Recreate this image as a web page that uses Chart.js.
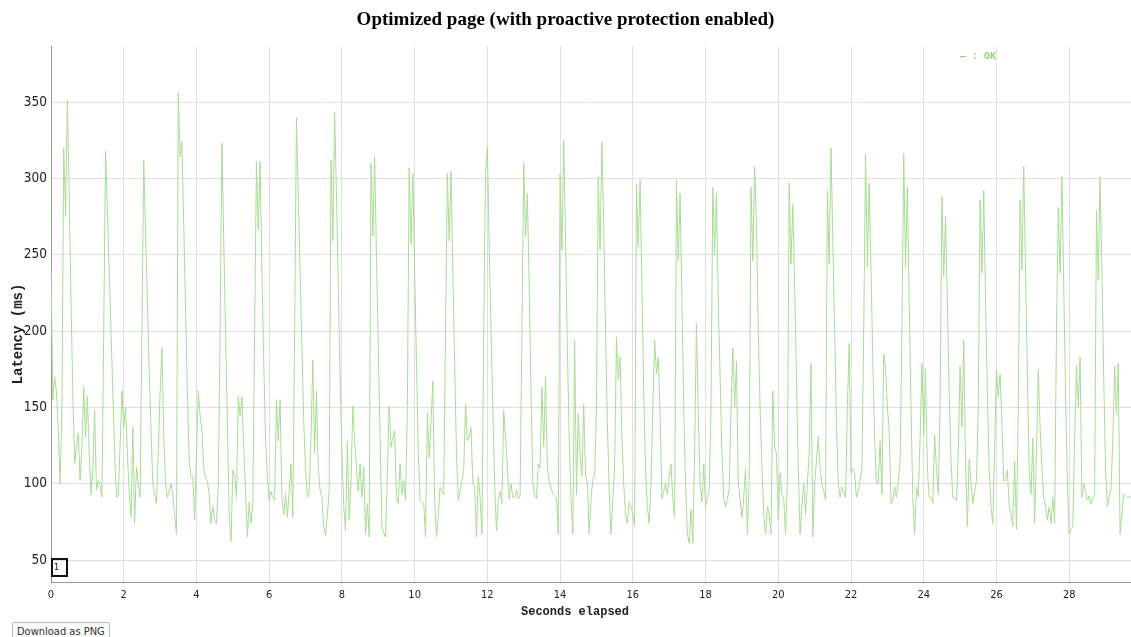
<!DOCTYPE html>
<html>
<head>
<meta charset="utf-8">
<script src="https://cdn.jsdelivr.net/npm/chart.js@4.4.1/dist/chart.umd.min.js"></script>
<style>
  html, body { margin: 0; padding: 0; background: #fff; overflow: hidden; }
  #wrap { position: relative; width: 1131px; height: 637px; }
  #chart { position: absolute; left: 0; top: 0; }
  #box1 { position: absolute; left: 51px; top: 558px; width: 12px; height: 15px; border: 2px solid #111;
          font: 9px "Liberation Sans Narrow", "DejaVu Sans Condensed", Arial, sans-serif; color: #111; line-height: 15px; padding-left: 1px; }
  #dl { position: absolute; left: 12px; top: 622px; height: 17px; padding: 0 4px; border: 1px solid #bbb; border-radius: 2px;
        background: #fafafa; font: 11px "Liberation Sans Narrow", "DejaVu Sans Condensed", Arial, sans-serif; color: #333; line-height: 17px; }
</style>
</head>
<body>
<div id="wrap">
  <canvas id="chart" width="1131" height="637"></canvas>
  <div id="box1">1</div>
  <div id="dl">Download as PNG</div>
</div>
<script>
// ---- data (latency in ms, sampled every 0.05 s) ----
const chartTitle = "Optimized page (with proactive protection enabled)";
const xAxisTitle = "Seconds elapsed";
const yAxisTitle = "Latency (ms)";
const seriesName = "OK";
const sampleStep = 0.05;
const xTickValues = [0, 2, 4, 6, 8, 10, 12, 14, 16, 18, 20, 22, 24, 26, 28];
const yTickValues = [50, 100, 150, 200, 250, 300, 350];

const latency0to5 = [
  240,155,170,160,135,100,150,320,275,351,290,220,160,113,125,133,102,125,163,130,
  157,120,93,110,148,96,102,100,91,200,318,280,240,200,160,120,91,92,125,161,
  137,150,120,95,78,137,74,111,100,91,200,312,265,220,175,135,100,93,87,120,
  159,189,133,100,91,95,100,93,80,67,356,314,324,270,215,160,115,104,105,76,
  120,161,145,135,110,104,102,93,74,85,76,74,100,200,323,260,200,140,80,62
];
const latency5to10 = [
  109,105,91,157,144,157,124,95,65,88,74,87,200,311,266,311,240,180,130,104,
  89,95,91,89,155,128,155,91,80,93,78,95,113,78,200,340,290,240,190,140,
  110,91,95,130,181,120,161,110,96,91,72,66,80,95,312,259,343,290,230,170,
  120,85,69,128,76,102,151,128,110,95,113,91,111,67,87,65,310,262,314,250,
  190,130,72,68,65,107,151,124,130,135,91,87,113,93,102,89,150,307,257,303
];
const latency10to15 = [
  240,180,120,89,88,87,65,146,117,140,167,89,65,80,98,95,93,200,303,259,
  305,240,180,120,89,95,102,109,152,128,130,137,100,98,65,105,91,67,200,303,
  321,257,200,150,100,69,90,95,87,148,130,110,90,100,91,91,96,90,92,200,
  310,262,290,230,160,100,93,90,113,110,163,124,170,110,102,98,93,92,91,67,
  303,253,325,260,190,130,90,67,194,93,146,120,105,152,105,100,67,90,103,105
];
const latency15to20 = [
  150,301,253,324,270,200,140,95,67,90,110,196,168,183,130,100,80,74,88,85,
  80,72,296,255,299,230,160,110,85,74,100,150,194,172,183,146,90,95,100,93,
  105,113,90,78,299,246,290,220,150,100,67,61,83,61,120,205,146,100,88,113,
  85,91,95,150,294,250,290,220,170,120,90,85,90,96,150,189,150,180,100,90,
  78,91,110,67,100,294,246,308,270,200,150,110,80,67,85,80,67,161,124,120
];
const latency20to25 = [
  76,107,93,90,67,102,297,244,283,230,170,110,67,85,100,80,100,120,179,65,
  100,115,131,110,100,95,89,292,244,320,260,200,140,100,91,98,95,91,150,192,
  107,110,107,91,95,102,110,200,316,242,297,240,180,130,100,100,128,93,185,176,
  150,135,87,90,98,91,102,113,200,316,242,294,220,150,90,67,98,91,130,179,
  132,175,110,91,91,87,132,110,93,150,288,236,275,220,160,115,91,91,89,120
];
const latency25to30 = [
  177,137,194,116,72,116,100,87,95,102,150,286,238,292,220,160,110,85,74,124,
  175,157,172,140,102,102,109,85,80,72,115,70,150,286,240,308,240,170,110,93,
  130,74,120,175,137,110,91,85,76,85,74,91,74,200,281,238,301,230,160,100,
  67,70,72,130,177,150,183,91,100,95,89,92,87,90,93,279,233,301,240,170,
  110,85,91,96,130,177,146,179,67,80,93,92,91,91,92
];
const segmentStarts = [0, 5, 10, 15, 20, 25];
const segmentValues = [latency0to5, latency5to10, latency10to15, latency15to20, latency20to25, latency25to30];

// ---- build points ----
const points = [];
segmentValues.forEach((vals, s) => {
  vals.forEach((v, i) => {
    points.push({ x: Math.round((segmentStarts[s] + i * sampleStep) * 1000) / 1000, y: v });
  });
});

const lineColor = 'rgb(168, 220, 148)';
const gridColor = 'rgb(224, 224, 224)';
const axisColor = 'rgb(150, 150, 150)';
const narrowFont = '"Liberation Sans Narrow", "DejaVu Sans Condensed", Arial, sans-serif';
const monoFont = '"Liberation Mono", "DejaVu Sans Mono", "Courier New", monospace';

const extraText = {
  id: 'extraText',
  afterDraw(chart) {
    const ctx = chart.ctx;
    ctx.save();
    // x axis title
    ctx.fillStyle = '#222';
    ctx.font = 'bold 12px ' + monoFont;
    ctx.textAlign = 'center';
    ctx.textBaseline = 'middle';
    ctx.fillText(xAxisTitle, 575, 612);
    // y axis title
    ctx.save();
    ctx.translate(18, 334);
    ctx.rotate(-Math.PI / 2);
    ctx.font = 'bold 14px ' + monoFont;
    ctx.fillText(yAxisTitle, 0, 0);
    ctx.restore();
    // legend
    ctx.fillStyle = 'rgb(150, 208, 125)';
    ctx.font = 'bold 10px ' + monoFont;
    ctx.textAlign = 'left';
    ctx.fillText('\u2014 : ' + seriesName, 960, 56);
    ctx.restore();
  }
};

new Chart(document.getElementById('chart').getContext('2d'), {
  type: 'line',
  data: {
    datasets: [{
      label: seriesName,
      data: points,
      borderColor: lineColor,
      borderWidth: 1,
      pointRadius: 0,
      tension: 0,
      fill: false
    }]
  },
  options: {
    responsive: false,
    animation: false,
    events: [],
    layout: { padding: 0 },
    plugins: {
      legend: { display: false },
      tooltip: { enabled: false },
      title: {
        display: true,
        text: chartTitle,
        color: '#000',
        font: { family: '"Liberation Serif", "Times New Roman", serif', size: 19, weight: 'bold' },
        padding: { top: 8.6, bottom: 14.6 }
      }
    },
    scales: {
      x: {
        type: 'linear',
        min: 0,
        max: 29.7,
        afterBuildTicks: s => { s.ticks = xTickValues.map(v => ({ value: v })); },
        afterFit: s => { s.height = 55; },
        grid: { color: gridColor, lineWidth: 1, drawTicks: false },
        border: { color: axisColor, width: 1 },
        ticks: { color: '#222', padding: 7, maxRotation: 0, autoSkip: false,
                 font: { family: narrowFont, size: 11 } }
      },
      y: {
        type: 'linear',
        min: 35.6,
        max: 386.7,
        afterBuildTicks: s => { s.ticks = yTickValues.map(v => ({ value: v })); },
        afterFit: s => { s.width = 51; },
        grid: { color: gridColor, lineWidth: 1, drawTicks: false },
        border: { color: axisColor, width: 1 },
        ticks: { color: '#222', padding: 4, font: { family: narrowFont, size: 13.5 } }
      }
    }
  },
  plugins: [extraText]
});
</script>
</body>
</html>
